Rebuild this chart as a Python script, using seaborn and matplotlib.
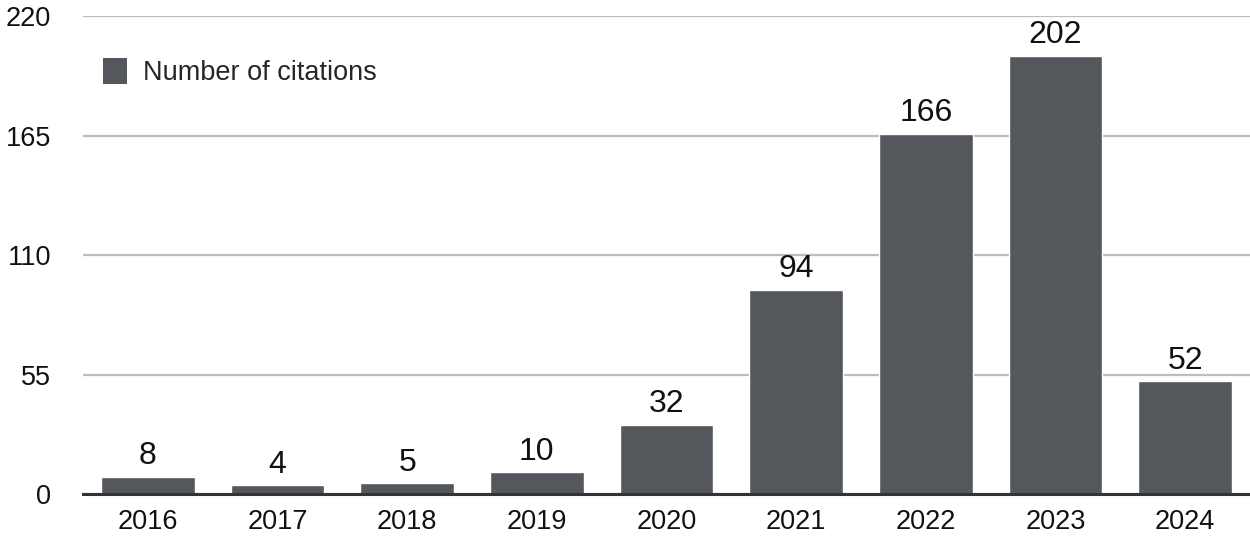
import matplotlib
matplotlib.use("Agg")
import matplotlib.pyplot as plt
import seaborn as sns
import pandas as pd
from matplotlib.patches import Patch

years = ["2016", "2017", "2018", "2019", "2020", "2021", "2022", "2023", "2024"]
citations = [8, 4, 5, 10, 32, 94, 166, 202, 52]
yticks = [0, 55, 110, 165, 220]

df = pd.DataFrame({"Year": years, "Citations": citations})

sns.set_theme(style="white")
plt.rcParams["font.family"] = ["Liberation Sans", "DejaVu Sans"]

fig = plt.figure(figsize=(12.5, 5.39), dpi=100)
ax = fig.add_axes([0.0664, 0.0835, 0.9336, 0.886])

bar_color = "#54575b"
sns.barplot(data=df, x="Year", y="Citations", color=bar_color, width=0.72,
            saturation=1, ax=ax, zorder=3)

ax.set_ylim(0, 220)
ax.set_xlim(-0.5, 8.5)
ax.set_yticks(yticks)
ax.set_yticklabels([str(v) for v in yticks])
ax.yaxis.grid(True, color="#bdbdbd", linewidth=1.6, zorder=0)
ax.set_axisbelow(True)
for s in ["top", "right", "left"]:
    ax.spines[s].set_visible(False)
ax.spines["bottom"].set_color("#333333")
ax.spines["bottom"].set_linewidth(2.2)
ax.spines["bottom"].set_zorder(4)
ax.tick_params(axis="y", length=0, pad=23, labelsize=19.5, labelcolor="#111111")
ax.tick_params(axis="x", length=0, pad=11, labelsize=19.5, labelcolor="#111111")
ax.set_xlabel("")
ax.set_ylabel("")

for container in ax.containers:
    ax.bar_label(container, labels=[str(v) for v in citations], padding=4,
                 fontsize=23, color="#111111")

handle = Patch(facecolor=bar_color, edgecolor="none")
ax.legend([handle], ["Number of citations"], loc="upper left",
          bbox_to_anchor=(-0.004, 0.965), frameon=False, fontsize=19.5,
          handlelength=0.9, handleheight=1.1, handletextpad=0.6)

fig.savefig("out.png", dpi=100)
